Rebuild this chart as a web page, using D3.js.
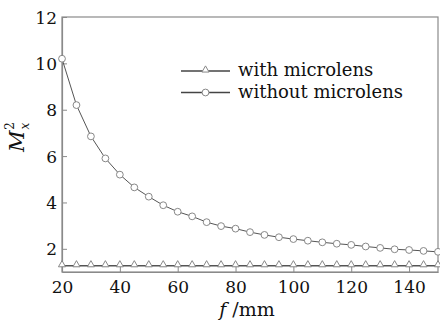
<!DOCTYPE html>
<html>
<head>
<meta charset="utf-8">
<script src="https://cdn.jsdelivr.net/npm/d3@7"></script>
<style>
  body { margin: 0; background: #fff; }
  text { font-family: "DejaVu Serif", serif; fill: #111; }
</style>
</head>
<body>
<div id="chart"></div>
<script>
// data
var focalLengths = [20, 25, 30, 35, 40, 45, 50, 55, 60, 65, 70, 75, 80, 85, 90,
  95, 100, 105, 110, 115, 120, 125, 130, 135, 140, 145, 150];
var withMicrolens = [1.27, 1.27, 1.27, 1.27, 1.27, 1.27, 1.27, 1.27, 1.27, 1.27,
  1.27, 1.27, 1.27, 1.27, 1.27, 1.27, 1.27, 1.27, 1.27, 1.27, 1.27, 1.27, 1.27,
  1.27, 1.27, 1.27, 1.27];
var withoutMicrolens = [10.2, 8.2, 6.85, 5.9, 5.2, 4.65, 4.25, 3.88, 3.6, 3.4,
  3.15, 2.98, 2.87, 2.72, 2.6, 2.5, 2.42, 2.35, 2.28, 2.22, 2.17, 2.1, 2.04,
  1.98, 1.95, 1.91, 1.87];
var xTicks = [20, 40, 60, 80, 100, 120, 140];
var yTicks = [2, 4, 6, 8, 10, 12];
var legendLabels = ["with microlens", "without microlens"];

var svgWidth = 440;
var svgHeight = 324;

var margin = { top: 17, right: 2, bottom: 52, left: 62 };
var width = svgWidth - margin.left - margin.right;
var height = svgHeight - margin.top - margin.bottom;

var svg = d3.select("#chart")
  .append("svg")
  .attr("width", svgWidth)
  .attr("height", svgHeight);

var chartGroup = svg.append("g")
  .attr("transform", `translate(${margin.left}, ${margin.top})`);

var xScale = d3.scaleLinear().domain([20, 150]).range([0, width]);
var yScale = d3.scaleLinear().domain([1, 12]).range([height, 0]);

var axisColor = "#8a8a8a";

// frame
chartGroup.append("rect")
  .attr("width", width)
  .attr("height", height)
  .attr("fill", "none")
  .attr("stroke", axisColor)
  .attr("stroke-width", 1.2);

// axes with inward ticks
var bottomAxis = d3.axisBottom(xScale).tickValues(xTicks).tickSizeInner(-5).tickSizeOuter(0).tickPadding(9);
var leftAxis = d3.axisLeft(yScale).tickValues(yTicks).tickSizeInner(-5).tickSizeOuter(0).tickPadding(5);

var xAxis = chartGroup.append("g")
  .attr("transform", `translate(0, ${height})`)
  .call(bottomAxis);
var yAxis = chartGroup.append("g").call(leftAxis);

[xAxis, yAxis].forEach(function(ax) {
  ax.select(".domain").attr("stroke", axisColor).attr("stroke-width", 1.2);
  ax.selectAll(".tick line").attr("stroke", axisColor);
  ax.selectAll(".tick text")
    .attr("font-family", "DejaVu Serif")
    .attr("font-size", 17)
    .attr("fill", "#111");
});
yAxis.selectAll(".tick text").attr("dy", "0.36em");

var line = d3.line()
  .x((d, i) => xScale(focalLengths[i]))
  .y(d => yScale(d));

// with microlens
chartGroup.append("path")
  .datum(withMicrolens)
  .attr("d", line)
  .attr("fill", "none")
  .attr("stroke", "#555")
  .attr("stroke-width", 1.4);

var tri = d3.symbol().type(d3.symbolTriangle).size(22);
chartGroup.selectAll(".tri")
  .data(withMicrolens)
  .enter()
  .append("path")
  .attr("class", "tri")
  .attr("d", tri)
  .attr("transform", (d, i) => `translate(${xScale(focalLengths[i])}, ${yScale(d) - 1})`)
  .attr("fill", "#fff")
  .attr("stroke", "#888")
  .attr("stroke-width", 1);

// without microlens
chartGroup.append("path")
  .datum(withoutMicrolens)
  .attr("d", line)
  .attr("fill", "none")
  .attr("stroke", "#555")
  .attr("stroke-width", 1);

chartGroup.selectAll(".circ")
  .data(withoutMicrolens)
  .enter()
  .append("circle")
  .attr("class", "circ")
  .attr("cx", (d, i) => xScale(focalLengths[i]))
  .attr("cy", d => yScale(d))
  .attr("r", 3.4)
  .attr("fill", "#fff")
  .attr("stroke", "#888")
  .attr("stroke-width", 1);

// legend
var legend = svg.append("g").attr("transform", "translate(181, 71)");
legendLabels.forEach(function(label, i) {
  var row = legend.append("g").attr("transform", `translate(0, ${i * 21.5})`);
  row.append("line")
    .attr("x1", 0).attr("x2", 49)
    .attr("stroke", "#444").attr("stroke-width", 1.6);
  if (i === 0) {
    row.append("path")
      .attr("d", tri)
      .attr("transform", "translate(24.5, -1)")
      .attr("fill", "#fff").attr("stroke", "#888");
  } else {
    row.append("circle")
      .attr("cx", 24.5).attr("r", 3.4)
      .attr("fill", "#fff").attr("stroke", "#888");
  }
  row.append("text")
    .attr("x", 57)
    .attr("y", 5)
    .attr("font-size", 18)
    .text(label);
});

// axis labels
var yLabel = svg.append("text")
  .attr("transform", "translate(24, 137) rotate(-90)")
  .attr("text-anchor", "middle")
  .attr("font-size", 21)
  .attr("font-style", "italic");
yLabel.append("tspan").text("M");
yLabel.append("tspan").attr("font-size", 12).attr("dx", 1).attr("dy", 5).text("x");
yLabel.append("tspan").attr("font-size", 12).attr("dx", -7).attr("dy", -15).attr("font-style", "normal").text("2");

var xLabel = svg.append("text")
  .attr("x", 247)
  .attr("y", 316)
  .attr("text-anchor", "middle")
  .attr("font-size", 19);
xLabel.append("tspan").attr("font-style", "italic").text("f");
xLabel.append("tspan").text(" /mm");
</script>
</body>
</html>
